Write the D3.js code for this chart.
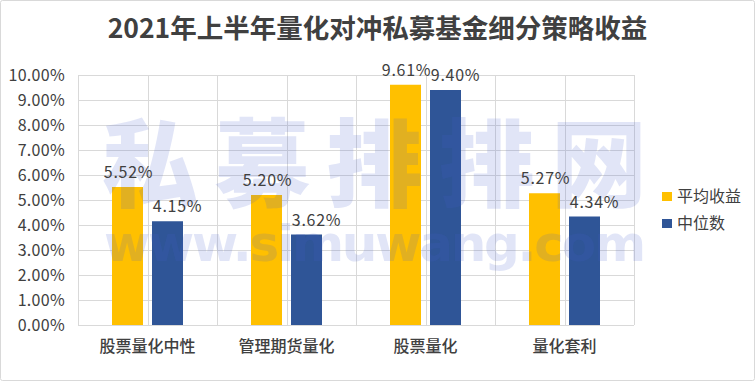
<!DOCTYPE html>
<html><head><meta charset="utf-8">
<script src="https://cdn.jsdelivr.net/npm/d3@7"></script>
<style>
html,body{margin:0;padding:0;background:#fff;}
svg{display:block;font-family:"Noto Sans CJK SC","Noto Sans",sans-serif;}
</style></head>
<body>
<script>
const title = "2021年上半年量化对冲私募基金细分策略收益";
const categories = ["股票量化中性", "管理期货量化", "股票量化", "量化套利"];
const seriesNames = ["平均收益", "中位数"];
const meanValues = [5.52, 5.20, 9.61, 5.27];
const medianValues = [4.15, 3.62, 9.40, 4.34];
const yTicks = [0,1,2,3,4,5,6,7,8,9,10];
const colors = ["#FFC000", "#2F5597"];

(function(){
const W = 755, H = 381;
const svg = d3.select("body").append("svg").attr("width", W).attr("height", H);

svg.append("rect").attr("x",0.5).attr("y",0.5).attr("width",W-1).attr("height",H-1)
  .attr("fill","#fff").attr("stroke","#d9d9d9").attr("rx",2);

const pL = 78, pR = 634, pT = 75, pB = 325;
const x = d3.scaleBand().domain(categories).range([pL, pR]).padding(0);
const y = d3.scaleLinear().domain([0, 10]).range([pB, pT]);
const x1 = d3.scaleBand().domain(seriesNames).range([0, 71]).paddingInner(0.225).paddingOuter(0);
const off = (x.bandwidth() - 71) / 2;
const labelShift = [1, 10];

// title
svg.append("text").attr("x", 377.5).attr("y", 38).attr("text-anchor","middle")
  .attr("font-size", 26.5).attr("font-weight", 700).attr("fill", "#404040").text(title);

// horizontal gridlines
svg.append("g").selectAll("line").data(yTicks).join("line")
  .attr("x1", pL).attr("x2", pR)
  .attr("y1", d => Math.round(y(d)) + 0.5).attr("y2", d => Math.round(y(d)) + 0.5)
  .attr("stroke", "#d9d9d9").attr("stroke-width", 1);

// vertical gridlines at category boundaries and centres
const vx = [];
categories.forEach(c => { vx.push(x(c)); vx.push(x(c) + x.bandwidth()/2); });
vx.push(pR);
svg.append("g").selectAll("line").data(vx).join("line")
  .attr("x1", d => Math.round(d) + 0.5).attr("x2", d => Math.round(d) + 0.5)
  .attr("y1", pT).attr("y2", pB)
  .attr("stroke", "#d9d9d9").attr("stroke-width", 1);

// y tick labels
svg.append("g").selectAll("text").data(yTicks).join("text")
  .attr("x", 65).attr("y", d => y(d)).attr("dy", "0.36em").attr("text-anchor", "end")
  .attr("font-size", 16).attr("letter-spacing", 0.3).attr("fill", "#404040").text(d => d.toFixed(2) + "%");

// bars
const rows = categories.map((c, i) => ({ c, vals: [meanValues[i], medianValues[i]] }));
const g = svg.append("g");
rows.forEach(r => {
  r.vals.forEach((v, j) => {
    g.append("rect")
      .attr("x", x(r.c) + off + x1(seriesNames[j]))
      .attr("y", y(v))
      .attr("width", x1.bandwidth())
      .attr("height", y(0) - y(v))
      .attr("fill", colors[j]);
  });
});

// watermark
const wm = svg.append("g").attr("fill", "rgb(70,95,205)").attr("fill-opacity", 0.16);
wm.append("text").attr("x", 102).attr("y", 199).attr("font-size", 96).attr("font-weight", 900)
  .attr("textLength", 545).attr("lengthAdjust", "spacing").text("私募排排网");
wm.append("text").attr("x", 104).attr("y", 261).attr("font-size", 50).attr("font-weight", 700)
  .attr("font-family", "'DejaVu Sans',sans-serif")
  .attr("textLength", 542).attr("lengthAdjust", "spacing").text("www.simuwang.com");

// data labels
rows.forEach(r => {
  r.vals.forEach((v, j) => {
    svg.append("text")
      .attr("x", x(r.c) + off + x1(seriesNames[j]) + x1.bandwidth()/2 + labelShift[j])
      .attr("y", y(v) - 9).attr("text-anchor", "middle")
      .attr("font-size", 16).attr("letter-spacing", 0.7).attr("fill", "#404040").text(v.toFixed(2) + "%");
  });
});

// category labels
svg.append("g").selectAll("text").data(categories).join("text")
  .attr("x", d => x(d) + x.bandwidth()/2).attr("y", 352).attr("text-anchor", "middle")
  .attr("font-size", 16).attr("font-weight", 500).attr("fill", "#404040").text(d => d);

// legend
const lg = svg.append("g");
seriesNames.forEach((s, j) => {
  lg.append("rect").attr("x", 662).attr("y", 192 + j*27).attr("width", 10).attr("height", 9).attr("fill", colors[j]);
  lg.append("text").attr("x", 677).attr("y", 196.5 + j*27).attr("dy", "0.36em")
    .attr("font-size", 16).attr("fill", "#404040").text(s);
});
})();
</script>
</body></html>
